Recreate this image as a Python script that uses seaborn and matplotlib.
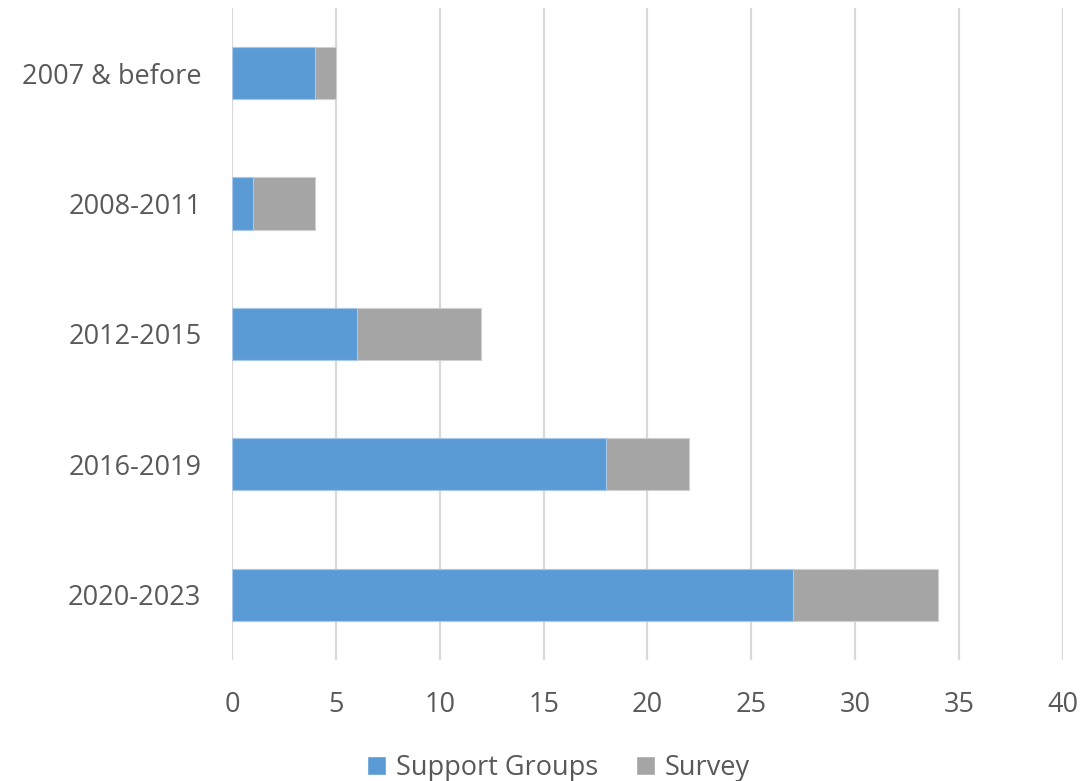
import matplotlib
matplotlib.use("Agg")
import matplotlib.pyplot as plt
import seaborn as sns
import pandas as pd
from matplotlib.patches import Patch

categories = ["2007 & before", "2008-2011", "2012-2015", "2016-2019", "2020-2023"]
support_groups = [4, 1, 6, 18, 27]
survey = [1, 3, 6, 4, 7]
x_ticks = [0, 5, 10, 15, 20, 25, 30, 35, 40]

BLUE = "#5B9BD5"
GRAY = "#A5A5A5"
TXT = "#595959"

sns.set_theme(style="white")
plt.rcParams["font.family"] = ["Open Sans", "DejaVu Sans"]

df = pd.DataFrame({
    "Period": categories,
    "Support Groups": support_groups,
    "Survey": survey,
})
df["Total"] = df["Support Groups"] + df["Survey"]

fig = plt.figure(figsize=(10.84, 7.81), dpi=100)
ax = fig.add_axes([0.214, 0.155, 0.7666, 0.835])

sns.barplot(data=df, y="Period", x="Total", order=categories, color=GRAY,
            orient="h", width=0.4, ax=ax, saturation=1, edgecolor="#D0D0D0", linewidth=0.8, zorder=3)
sns.barplot(data=df, y="Period", x="Support Groups", order=categories, color=BLUE,
            orient="h", width=0.4, ax=ax, saturation=1, edgecolor="#A9C8E8", linewidth=0.8, zorder=4)

ax.set_xlim(0, 40)
ax.set_ylim(4.5, -0.5)
ax.set_xticks(x_ticks)
ax.set_xticklabels([str(t) for t in x_ticks])
ax.set_xlabel("")
ax.set_ylabel("")
for s in ax.spines.values():
    s.set_visible(False)
ax.xaxis.grid(True, color="#D9D9D9", linewidth=1.6, zorder=0)
ax.yaxis.grid(False)
ax.set_axisbelow(True)
ax.tick_params(axis="both", length=0, labelsize=19.5, colors=TXT)
ax.tick_params(axis="x", pad=22)
ax.tick_params(axis="y", pad=22)

handles = [Patch(facecolor=BLUE, label="Support Groups"), Patch(facecolor=GRAY, label="Survey")]
leg = fig.legend(handles=handles, loc="lower center", bbox_to_anchor=(0.515, -0.032), ncol=2,
                 frameon=False, fontsize=19.5, handlelength=0.7, handleheight=0.7,
                 handletextpad=0.35, columnspacing=1.4)
for t in leg.get_texts():
    t.set_color(TXT)

fig.savefig("out.png", dpi=100, facecolor="white")
